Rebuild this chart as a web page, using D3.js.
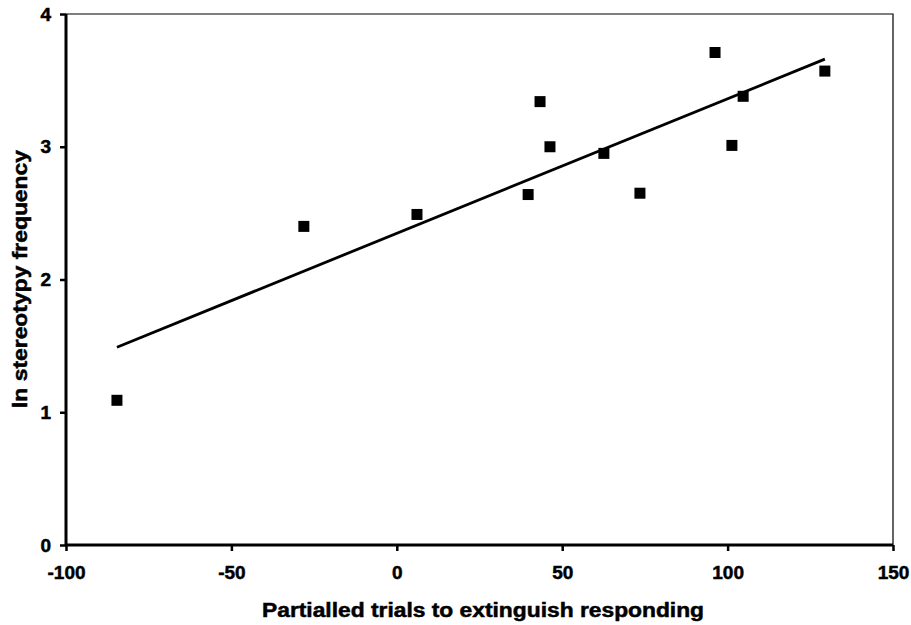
<!DOCTYPE html>
<html>
<head>
<meta charset="utf-8">
<script src="https://cdn.jsdelivr.net/npm/d3@7"></script>
<style>
  body { margin: 0; background: #fff; }
  text { font-family: "Liberation Sans", Arial, sans-serif; font-weight: bold; fill: #000; stroke: #000; stroke-width: 0.5px; }
</style>
</head>
<body>
<div id="chart"></div>
<script>
var trials = [-84.6, -28.1, 6.1, 39.7, 43.3, 46.3, 62.6, 73.5, 96.2, 101.3, 104.7, 129.4];
var stereotypy = [1.09, 2.40, 2.49, 2.64, 3.34, 3.00, 2.95, 2.65, 3.71, 3.01, 3.38, 3.57];
var fitX = [-84.6, 129.4];
var fitY = [1.49, 3.66];
var xTicks = [-100, -50, 0, 50, 100, 150];
var yTicks = [0, 1, 2, 3, 4];

var width = 911, height = 625;
var margin = { left: 66, right: 18, top: 14, bottom: 80 };

var svg = d3.select('#chart').append('svg')
  .attr('width', width)
  .attr('height', height);

var x = d3.scaleLinear().domain([-100, 150]).range([margin.left, width - margin.right]);
var y = d3.scaleLinear().domain([0, 4]).range([height - margin.bottom, margin.top]);

// thin frame on top and right
svg.append('path')
  .attr('d', 'M' + x(-100) + ',' + y(4) + 'H' + x(150) + 'V' + y(0))
  .attr('fill', 'none')
  .attr('stroke', '#000')
  .attr('stroke-width', 1.2);

var fmt = function(d) { return String(d); };
var xAxis = svg.append('g')
  .attr('transform', 'translate(0,' + y(0) + ')')
  .call(d3.axisBottom(x).tickValues(xTicks).tickSize(6).tickPadding(15).tickFormat(fmt));
var yAxis = svg.append('g')
  .attr('transform', 'translate(' + x(-100) + ',0)')
  .call(d3.axisLeft(y).tickValues(yTicks).tickSize(6).tickPadding(9).tickFormat(fmt));

[xAxis, yAxis].forEach(function(g) {
  g.select('.domain').attr('stroke', '#000').attr('stroke-width', 3);
  g.selectAll('.tick line').attr('stroke', '#000').attr('stroke-width', 2.5);
  g.selectAll('.tick text').style('font-size', '19px').style('font-family', '"Liberation Sans", Arial, sans-serif').style('font-weight', 'bold');
});
xAxis.select('.domain').attr('d', 'M' + x(-100) + ',0H' + x(150));
yAxis.select('.domain').attr('d', 'M0,' + y(0) + 'V' + y(4));

svg.append('line')
  .attr('x1', x(fitX[0])).attr('y1', y(fitY[0]))
  .attr('x2', x(fitX[1])).attr('y2', y(fitY[1]))
  .attr('stroke', '#000')
  .attr('stroke-width', 2.8);

var s = 11;
svg.selectAll('.pt')
  .data(trials)
 .enter().append('rect')
  .attr('class', 'pt')
  .attr('x', function(d) { return x(d) - s / 2; })
  .attr('y', function(d, i) { return y(stereotypy[i]) - s / 2; })
  .attr('width', s)
  .attr('height', s)
  .attr('fill', '#000');

svg.append('text')
  .attr('x', 483)
  .attr('y', 617)
  .attr('text-anchor', 'middle')
  .attr('textLength', 442)
  .attr('lengthAdjust', 'spacingAndGlyphs')
  .style('font-size', '20px')
  .text('Partialled trials to extinguish responding');

svg.append('text')
  .attr('transform', 'translate(27,279) rotate(-90)')
  .attr('text-anchor', 'middle')
  .attr('textLength', 258)
  .attr('lengthAdjust', 'spacingAndGlyphs')
  .style('font-size', '20px')
  .text('ln stereotypy frequency');
</script>
</body>
</html>
